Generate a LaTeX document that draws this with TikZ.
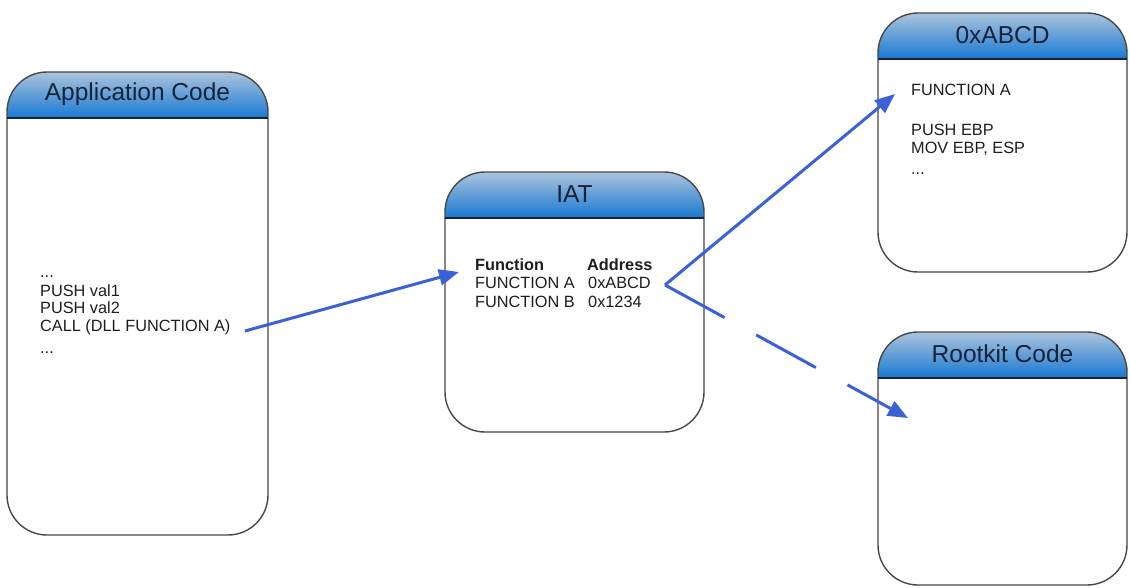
\documentclass[tikz,border=0pt]{standalone}
\usepackage{fontspec}
\setmainfont{Liberation Sans}
\usetikzlibrary{arrows.meta}

\definecolor{hdtop}{RGB}{172,196,220}
\definecolor{hdmid}{RGB}{78,148,214}
\definecolor{hdbot}{RGB}{22,120,210}
\definecolor{hdtext}{RGB}{22,34,58}
\definecolor{hdline}{RGB}{25,35,50}
\definecolor{edge}{RGB}{72,72,72}
\definecolor{linkblue}{RGB}{58,98,214}
\definecolor{bodytext}{RGB}{30,30,30}

\tikzset{
  codebox/.style={draw=edge, line width=1.4pt, rounded corners=40pt,
    inner sep=0pt, outer sep=0pt, anchor=north west},
  hdrule/.style={draw=hdline, line width=2pt},
  headtitle/.style={font=\fontsize{24.5}{27}\selectfont, text=hdtext, inner sep=0pt},
  codeline/.style={font=\fontsize{16.3}{18}\selectfont, text=bodytext,
    inner sep=0pt, anchor=base west},
  boldline/.style={codeline, font=\fontsize{16.3}{18}\selectfont\bfseries},
  linkarrow/.style={draw=linkblue, line width=3pt,
    -{Triangle[length=20pt,width=16pt]}},
}

% #1 name, (#2,#3) top left, (#4,#5) bottom right, #6 title
\newcommand\codepanel[6]{%
  \begin{scope}
    \clip[rounded corners=40pt] (#2,#3) rectangle (#4,#5);
    \shade[top color=hdtop, middle color=hdmid, bottom color=hdbot]
      (#2,#3) rectangle (#4,#3+46);
  \end{scope}
  \node[codebox, minimum width={(#4-#2)*1pt}, minimum height={(#5-#3)*1pt}]
    (#1) at (#2,#3) {};
  \draw[hdrule] (#2,#3+46) -- (#4,#3+46);
  \node[headtitle] (#1-title) at ({(#2+#4)/2},#3+22) {#6};
}

\begin{document}
\begin{tikzpicture}[x=1pt, y=-1pt]
  \useasboundingbox[fill=white] (0,0) rectangle (1130,587);

  % panels
  \codepanel{app}{7}{72}{268}{535}{Application Code}
  \codepanel{iat}{445}{172}{704}{432}{IAT}
  \codepanel{tgt}{878}{13}{1127}{272}{0xABCD}
  \codepanel{rk}{878}{332}{1127}{585}{Rootkit Code}

  % application code listing
  \node[codeline] (a0) at (40,277) {...};
  \node[codeline] (a1) at (40,296) {PUSH val1};
  \node[codeline] (a2) at (40,313.5) {PUSH val2};
  \node[codeline] (a3) at (40,331) {CALL (DLL FUNCTION A)};
  \node[codeline] (a4) at (40,353) {...};

  % import address table
  \node[boldline] (ihf) at (475,270) {Function};
  \node[boldline] (iha) at (587,270) {Address};
  \node[codeline] (if1) at (475,288.5) {FUNCTION A};
  \node[codeline] (ia1) at (588,288.5) {0xABCD};
  \node[codeline] (if2) at (475,307) {FUNCTION B};
  \node[codeline] (ia2) at (588,307) {0x1234};

  % function body at 0xABCD
  \node[codeline] (t1) at (911,95) {FUNCTION A};
  \node[codeline] (t2) at (911,135) {PUSH EBP};
  \node[codeline] (t3) at (911,153) {MOV EBP, ESP};
  \node[codeline] (t4) at (911,174) {...};

  % connector end points
  \coordinate (callout) at (245,331);
  \coordinate (iatin) at (459,272);
  \coordinate (fork) at (665,285);
  \coordinate (tgtin) at (895,94);
  \coordinate (rkin) at (908,418);

  % call flow
  \draw[linkarrow] (callout) -- (iatin);
  \draw[linkarrow] (fork) -- (tgtin);
  \draw[linkarrow, dash pattern=on 68pt off 36pt] (fork) -- (rkin);
\end{tikzpicture}
\end{document}
